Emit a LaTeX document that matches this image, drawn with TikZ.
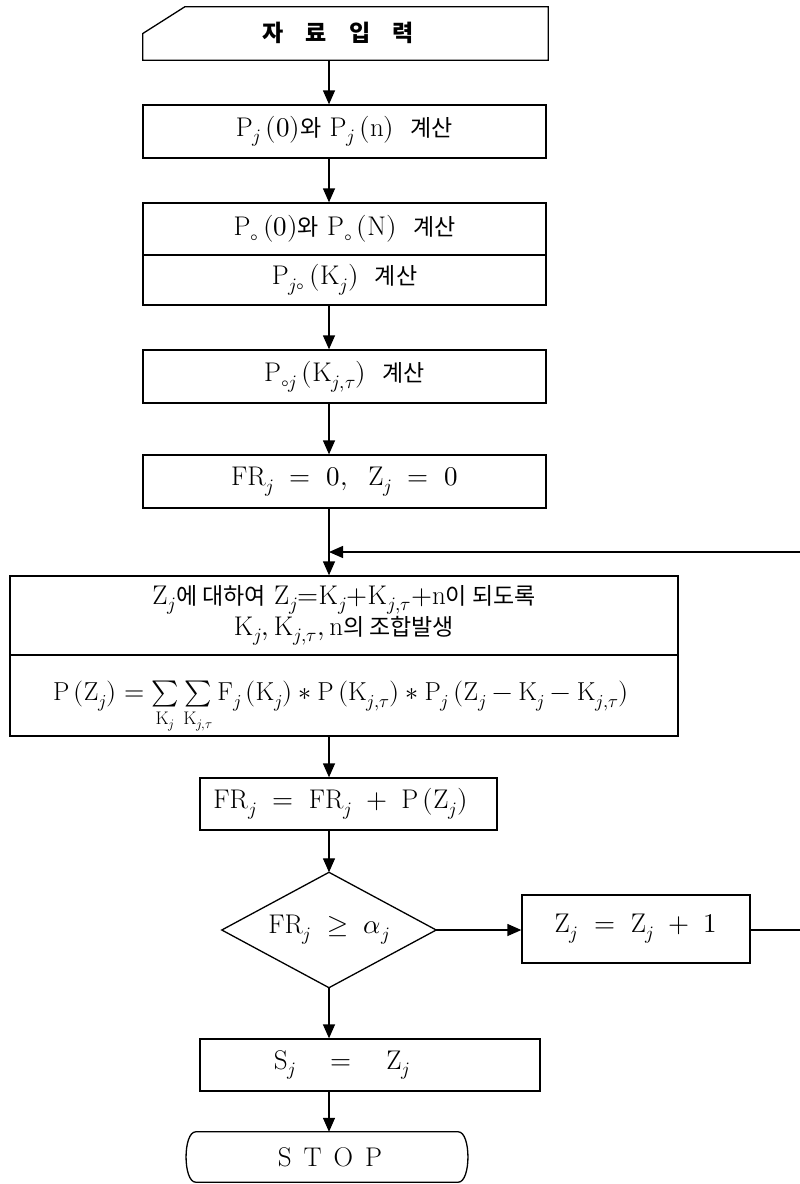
\documentclass[tikz,border=0pt]{standalone}
\usepackage{unicode-math}
\setmathfont{Latin Modern Math}
\newfontfamily\kr{Noto Sans CJK KR}
\usetikzlibrary{arrows.meta}
\newcommand\fs{\fontsize{27}{32}\selectfont}
\newcommand\kt[1]{{\kr\fontsize{23}{27}\selectfont #1}}
\begin{document}
\begin{tikzpicture}[x=1pt,y=-1pt,
  box/.style={draw, line width=1.3pt, inner sep=0pt, font=\fs, align=center},
  plain/.style={inner sep=0pt, font=\fs, align=center},
  arr/.style={line width=1.3pt, -{Triangle[length=14pt,width=12pt]}},
  ln/.style={line width=1.3pt}]
\useasboundingbox (0,0) rectangle (800,1184);
\coordinate (ax) at (329,0);

% input
\node[plain, minimum width=405, minimum height=53] (inp) at (345.5,33.5) {};
\draw[ln] (inp.south west) -- (inp.west) -- ([xshift=42pt]inp.north west) -- (inp.north east) -- (inp.south east) -- cycle;
\node[plain, font=\kr\bfseries\fontsize{23}{26}\selectfont] (inptxt) at (338,33) {자\hspace{22pt}료\hspace{22pt}입\hspace{22pt}력};

\node[box, minimum width=403, minimum height=53] (b2) at (344.5,131.5)
  {$\mathrm{P}_j\,(0)$\kt{와} $\mathrm{P}_j\,(\mathrm{n})$\ \ \kt{계산}};
\node[box, minimum width=403, minimum height=52] (b3a) at (344.5,229)
  {$\mathrm{P}_\circ\,(0)$\kt{와} $\mathrm{P}_\circ\,(\mathrm{N})$\ \ \kt{계산}};
\node[box, minimum width=403, minimum height=50] (b3b) at (344.5,280)
  {$\mathrm{P}_{j\circ}\,(\mathrm{K}_j)$\ \ \kt{계산}};
\node[box, minimum width=403, minimum height=53] (b4) at (344.5,376.5)
  {$\mathrm{P}_{\circ j}\,(\mathrm{K}_{j,\tau})$\ \ \kt{계산}};
\node[box, minimum width=403, minimum height=53] (b5) at (344.5,481.5)
  {$\mathrm{FR}_j\ =\ 0,\ \ \mathrm{Z}_j\ =\ 0$};
\coordinate (j1) at (329,552);

\node[box, minimum width=668, minimum height=79] (b6a) at (344,615.5)
  {$\mathrm{Z}_j$\kt{에 대하여} $\mathrm{Z}_j{=}\mathrm{K}_j{+}\mathrm{K}_{j,\tau}{+}\mathrm{n}$\kt{이 되도록}\\[-1pt]
   $\mathrm{K}_j, \mathrm{K}_{j,\tau}, \mathrm{n}$\kt{의 조합발생}};
\node[box, minimum width=668, minimum height=81] (b6b) at (344,695.5) {};
\node[plain, font=\fontsize{26}{30}\selectfont] (b6t) at (341,708)
  {$\mathrm{P}\,(\mathrm{Z}_j)=\sum\limits_{\mathrm{K}_j}\sum\limits_{\mathrm{K}_{j,\tau}}\mathrm{F}_j\,(\mathrm{K}_j)\ast\mathrm{P}\,(\mathrm{K}_{j,\tau})\ast\mathrm{P}_j\,(\mathrm{Z}_j-\mathrm{K}_j-\mathrm{K}_{j,\tau})$};

\node[box, minimum width=297, minimum height=52] (b7) at (348.5,804)
  {$\mathrm{FR}_j\ =\ \mathrm{FR}_j\ +\ \mathrm{P}\,(\mathrm{Z}_j)$\hspace*{16pt}};

\node[plain, minimum width=214, minimum height=115] (d) at (329,930) {$\mathrm{FR}_j\ \geq\ \alpha_j$};
\draw[ln] (d.north) -- (d.east) -- (d.south) -- (d.west) -- cycle;

\node[box, minimum width=228, minimum height=68] (zb) at (636,929)
  {$\mathrm{Z}_j\ =\ \mathrm{Z}_j\ +\ 1$};

\node[box, minimum width=340, minimum height=52] (sb) at (370,1065)
  {$\mathrm{S}_j\quad=\quad\mathrm{Z}_j$\hspace*{56pt}};

\node[plain, minimum width=240, minimum height=50] (stop) at (330,1157)
  {S\hspace{12pt}T\hspace{12pt}O\hspace{12pt}P};
\draw[ln] ([xshift=-14pt]stop.north west) .. controls ([xshift=-27pt]stop.north west) and ([xshift=-27pt]stop.south west) .. ([xshift=-14pt]stop.south west)
  -- ([xshift=8pt]stop.south east) .. controls ([xshift=21pt]stop.south east) and ([xshift=21pt]stop.north east) .. ([xshift=8pt]stop.north east) -- cycle;

\coordinate (r1) at (802,930);
\coordinate (r2) at (802,552);

\draw[arr] (inp.south -| ax) -- (b2.north -| ax);
\draw[arr] (b2.south -| ax) -- (b3a.north -| ax);
\draw[arr] (b3b.south -| ax) -- (b4.north -| ax);
\draw[arr] (b4.south -| ax) -- (b5.north -| ax);
\draw[arr] (b5.south -| ax) -- (b6a.north -| ax);
\draw[arr] (b6b.south -| ax) -- (b7.north -| ax);
\draw[arr] (b7.south -| ax) -- (d.north);
\draw[arr] (d.east) -- (d.east -| zb.west);
\draw[arr] (d.east -| zb.east) -- (r1) -- (r2) -- (j1);
\draw[arr] (d.south) -- (sb.north -| ax);
\draw[arr] (sb.south -| ax) -- (stop.north -| ax);
\end{tikzpicture}
\end{document}
